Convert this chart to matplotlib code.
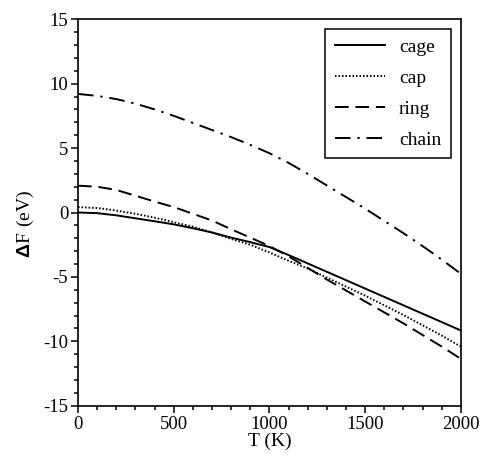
import matplotlib
matplotlib.use("Agg")
import matplotlib.pyplot as plt
from matplotlib.ticker import MultipleLocator

plt.rcParams['font.family'] = 'Liberation Serif'
plt.rcParams['mathtext.fontset'] = 'custom'
plt.rcParams['mathtext.rm'] = 'Liberation Serif'
plt.rcParams['mathtext.bf'] = 'Liberation Sans:bold'
plt.rcParams['axes.unicode_minus'] = False

T = [0, 100, 200, 300, 400, 500, 600, 700, 800, 900, 1000,
     1100, 1200, 1300, 1400, 1500, 1600, 1700, 1800, 1900, 2000]

cage = [0.0, -0.05, -0.22, -0.45, -0.68, -0.92, -1.22, -1.55, -1.95, -2.3, -2.68,
        -3.3, -3.95, -4.6, -5.25, -5.9, -6.55, -7.2, -7.85, -8.5, -9.15]
cap = [0.42, 0.35, 0.15, -0.1, -0.4, -0.75, -1.1, -1.55, -2.05, -2.5, -3.1,
       -3.75, -4.35, -5.05, -5.75, -6.45, -7.2, -7.95, -8.75, -9.55, -10.4]
ring = [2.08, 2.0, 1.75, 1.3, 0.85, 0.42, -0.1, -0.62, -1.3, -1.95, -2.6,
        -3.4, -4.3, -5.2, -6.05, -6.9, -7.75, -8.6, -9.5, -10.4, -11.35]
chain = [9.2, 9.05, 8.8, 8.45, 8.0, 7.5, 6.95, 6.4, 5.85, 5.25, 4.6,
         3.85, 3.0, 2.1, 1.2, 0.3, -0.65, -1.6, -2.6, -3.65, -4.75]

fig = plt.figure(figsize=(4.82, 4.57), dpi=100)
ax = fig.add_axes([0.162, 0.112, 0.794, 0.846])

lw = 1.4
ax.plot(T, cage, color='black', linestyle='-', linewidth=lw, label='cage')
ax.plot(T, cap, color='black', linestyle=(0, (0.8, 1.0)), linewidth=lw, label='cap')
ax.plot(T, ring, color='black', linestyle=(0, (7, 3.5)), linewidth=lw, label='ring')
ax.plot(T, chain, color='black', linestyle=(0, (8, 3.5, 1.2, 3.5)), linewidth=lw, label='chain')

ax.set_xlim(0, 2000)
ax.set_ylim(-15, 15)
ax.xaxis.set_major_locator(MultipleLocator(500))
ax.xaxis.set_minor_locator(MultipleLocator(100))
ax.yaxis.set_major_locator(MultipleLocator(5))
ax.yaxis.set_minor_locator(MultipleLocator(1))
ax.tick_params(which='both', direction='out', top=False, right=False, labelsize=13.5, width=1.1)
ax.tick_params(which='major', length=5, pad=2)
ax.tick_params(which='minor', length=3)
for s in ax.spines.values():
    s.set_linewidth(1.2)

ax.set_xlabel('T (K)', fontsize=14, labelpad=0)
ax.set_ylabel(r'$\mathbf{\Delta}\mathrm{F\ (eV)}$', fontsize=14)
ax.yaxis.set_label_coords(-0.11, 0.47)

leg = ax.legend(loc='upper right', fontsize=14, handlelength=2.6, handletextpad=0.7,
                borderaxespad=0.5, fancybox=False, framealpha=1, edgecolor='black',
                labelspacing=0.68, borderpad=0.5)
leg.get_frame().set_linewidth(1.1)

plt.savefig('out.png', dpi=100)
